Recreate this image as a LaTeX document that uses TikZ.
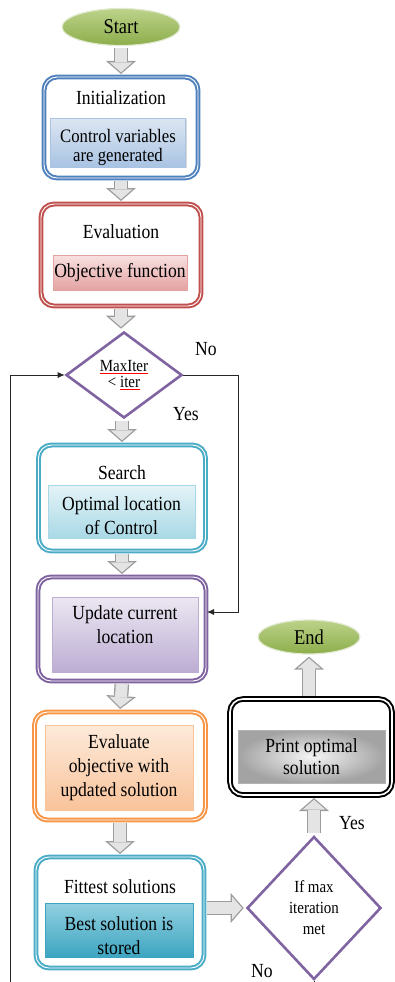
\documentclass[tikz,border=0pt]{standalone}
\usepackage{fontspec}
\setmainfont[FakeStretch=0.88]{Liberation Serif}
\usetikzlibrary{shapes.geometric,arrows.meta,shadows}

\definecolor{bluebd}{HTML}{4F81BD}
\definecolor{redbd}{HTML}{C0504D}
\definecolor{tealbd}{HTML}{4BACC6}
\definecolor{purplebd}{HTML}{8064A2}
\definecolor{orangebd}{HTML}{F79646}
\definecolor{arrowbd}{HTML}{9C9C9C}
\definecolor{arrowin}{HTML}{E4E4E4}
\definecolor{greentop}{HTML}{BCD28A}
\definecolor{greenbot}{HTML}{8DAE4B}
\definecolor{greenrim}{HTML}{E2EAD2}
\definecolor{initop}{HTML}{DCE6F2}
\definecolor{inibot}{HTML}{A9C3E3}
\definecolor{evaltop}{HTML}{F8E1E1}
\definecolor{evalbot}{HTML}{E3A3A2}
\definecolor{searchtop}{HTML}{E4F3F7}
\definecolor{searchbot}{HTML}{A9D9E6}
\definecolor{updtop}{HTML}{ECE7F2}
\definecolor{updbot}{HTML}{BCADD3}
\definecolor{evotop}{HTML}{FDEADA}
\definecolor{evobot}{HTML}{F9C39A}
\definecolor{fittop}{HTML}{92D0E0}
\definecolor{fitbot}{HTML}{3DA5C1}

% red underline of the word processor
\newcommand{\spellerr}[1]{{\color{red}\underline{\color{black}#1}}}

\tikzset{
  terminal/.style={ellipse, draw=greenrim, line width=1.2pt, top color=greentop, bottom color=greenbot, inner sep=0pt,
    font=\fontsize{21}{24}\selectfont},
  outerbox/.style={draw=#1, double=white, double distance=0.9pt, line width=2pt, rounded corners=13pt, fill=white, inner sep=0pt},
  innerbox/.style 2 args={draw=#2, line width=0.4pt, top color=#1, bottom color=#2, align=center, inner sep=1pt,
    drop shadow={shadow xshift=1.2pt, shadow yshift=-1.2pt, opacity=0.3}},
  printbox/.style={draw=gray!60, line width=0.4pt, inner color=gray!8, outer color=gray!72, align=center, inner sep=1pt,
    drop shadow={shadow xshift=1.2pt, shadow yshift=-1.2pt, opacity=0.3}},
  decision/.style={diamond, draw=purplebd, line width=2.6pt, fill=white, inner sep=0pt, align=center},
  fatarrow/.style={line width=12pt, draw=arrowin, shorten <=2pt, shorten >=3.7pt,
    -{Triangle[length=10pt, width=23pt, line width=0pt]},
    preaction={draw=arrowbd, line width=14.6pt, shorten <=2pt, shorten >=2pt,
      -{Triangle[length=13pt, width=30pt, line width=0pt]}}},
  loopline/.style={draw=black!85, line width=0.8pt, -{Latex[length=7pt, width=6pt]}}
}

\begin{document}
\begin{tikzpicture}[x=1pt, y=-1pt, font=\fontsize{20}{24}\selectfont]
  \useasboundingbox (0,0) rectangle (395,982);
  \clip (0,0) rectangle (395,982);

  % Start
  \node[terminal, minimum width=118pt, minimum height=37pt] (start) at (121,27) {Start};

  % Initialization
  \node[outerbox=bluebd, minimum width=154pt, minimum height=101pt] (init) at (121,127.5) {};
  \node (initlbl) at (121,98) {Initialization};
  \node[innerbox={initop}{inibot}, minimum width=135pt, minimum height=49pt] (initin) at (118,142.5) {};
  \node[align=center, font=\fontsize{19}{19}\selectfont] (inittxt) at (118,147) {Control variables\\are generated};

  % Evaluation
  \node[outerbox=redbd, minimum width=160pt, minimum height=102pt] (eval) at (121,255) {};
  \node (evallbl) at (121,232) {Evaluation};
  \node[innerbox={evaltop}{evalbot}, minimum width=134pt, minimum height=35pt] (evalin) at (120,272.5) {Objective function};

  % MaxIter < iter
  \node[decision, minimum width=116pt, minimum height=86pt, font=\fontsize{17}{15.5}\selectfont] (maxiter) at (124,375)
    {\spellerr{MaxIter}\\< \spellerr{iter}};

  % Search
  \node[outerbox=tealbd, minimum width=167pt, minimum height=106pt] (search) at (122,498) {};
  \node (searchlbl) at (122,473) {Search};
  \node[innerbox={searchtop}{searchbot}, minimum width=147pt, minimum height=53pt] (searchin) at (121.5,511.5) {};
  \node[align=center] (searchtxt) at (121.5,515.5) {Optimal location\\of Control};

  % Update
  \node[outerbox=purplebd, minimum width=168pt, minimum height=104pt] (update) at (122,629) {};
  \node[innerbox={updtop}{updbot}, minimum width=146pt, minimum height=75pt] (updatein) at (125,634.5) {};
  \node[align=center] (updatetxt) at (125,625) {Update current\\location};

  % Evaluate objective
  \node[outerbox=orangebd, minimum width=171pt, minimum height=108pt] (evalobj) at (120,766) {};
  \node[innerbox={evotop}{evobot}, minimum width=148pt, minimum height=85pt] (evalobjin) at (119,767.5) {Evaluate\\objective with\\updated solution};

  % Fittest
  \node[outerbox=tealbd, minimum width=168pt, minimum height=111pt] (fittest) at (120,912.5) {};
  \node (fittestlbl) at (120,887) {Fittest solutions};
  \node[innerbox={fittop}{fitbot}, minimum width=148pt, minimum height=54pt] (fittestin) at (119,930) {};
  \node[align=center] (fittesttxt) at (119,936) {Best solution is\\stored};

  % If max iteration met
  \node[decision, minimum width=134pt, minimum height=143pt, font=\fontsize{17}{21}\selectfont] (ifmax) at (314,908) {If max\\iteration\\met};

  % Print
  \node[outerbox=black, double distance=1.6pt, minimum width=162pt, minimum height=96pt] (print) at (311,747) {};
  \node[printbox, minimum width=147pt, minimum height=53pt, font=\fontsize{20}{22}\selectfont] (printin) at (311.5,756.5) {Print optimal\\solution};

  % End
  \node[terminal, minimum width=102pt, minimum height=34pt] (finish) at (309,637) {End};

  % labels
  \node (nolbl) at (206,349) {No};
  \node (yeslbl) at (186,414) {Yes};
  \node (yesend) at (352,823) {Yes};
  \node (noloop) at (262,971) {No};

  % block arrows
  \draw[fatarrow] (start.south) -- (init.north);
  \draw[fatarrow] (init.south) -- (eval.north);
  \draw[fatarrow] (eval.south) -- (eval.south |- maxiter.north);
  \draw[fatarrow] (search.north |- maxiter.south) -- (search.north);
  \draw[fatarrow] (search.south) -- (update.north);
  \draw[fatarrow] (update.south) -- (evalobj.north);
  \draw[fatarrow] (evalobj.south) -- (fittest.north);
  \draw[fatarrow] (fittest.east |- ifmax.west) -- (ifmax.west);
  \draw[fatarrow] (ifmax.north) -- (ifmax.north |- print.south);
  \draw[fatarrow] (finish.south |- print.north) -- (finish.south);

  % loops
  \coordinate (loopbot) at (10,1000);
  \coordinate (noturn) at (238,0);
  \draw[loopline] (ifmax.south) |- (loopbot) |- (maxiter.west);
  \draw[loopline] (maxiter.east) -- (maxiter.east -| noturn) |- ([yshift=17pt]update.east);

\end{tikzpicture}
\end{document}
